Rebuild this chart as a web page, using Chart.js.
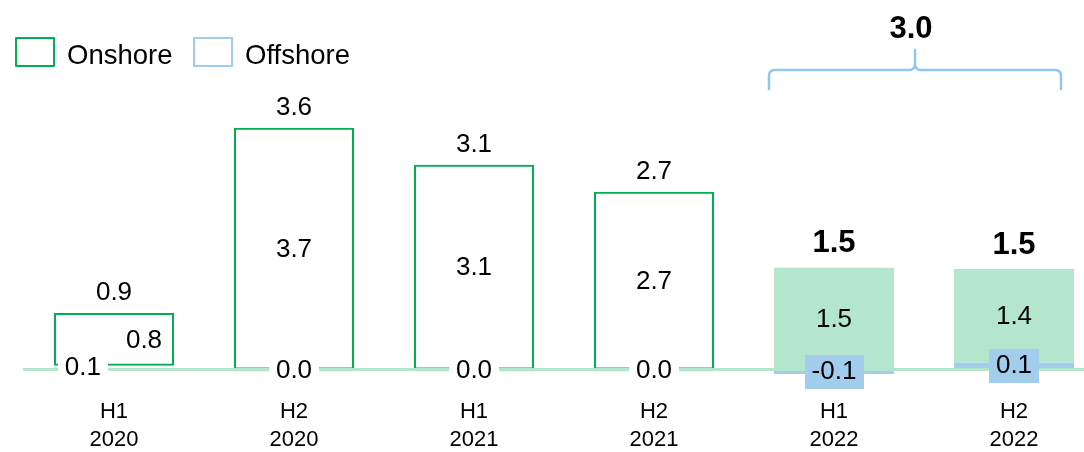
<!DOCTYPE html>
<html>
<head>
<meta charset="utf-8">
<script src="https://cdn.jsdelivr.net/npm/chart.js@4.4.1/dist/chart.umd.min.js"></script>
<style>
  html, body { margin: 0; padding: 0; background: #fff; }
  canvas { display: block; }
</style>
</head>
<body>
<canvas id="chart" width="1084" height="452"></canvas>
<script>
// Half-year periods
const halves = ['H1', 'H2', 'H1', 'H2', 'H1', 'H2'];
const years = ['2020', '2020', '2021', '2021', '2022', '2022'];

// Values per period
const onshore = [0.80, 3.66, 3.10, 2.69, 1.54, 1.42];
const offshore = [0.055, -0.03, -0.03, -0.03, -0.07, 0.10];

// Styling
const GREEN = '#00b050';
const GREEN_FILL = '#b3e6cc';
const BLUE_LINE = '#9fcdee';
const BLUE_FILL = '#a3cdec';
const BRACE = '#8fc8ee';
const FONT = '"Liberation Sans", Arial, Helvetica, sans-serif';
const VALUE_FONT = '26px ' + FONT;
const TOTAL_FONT = 'bold 31px ' + FONT;

const highlighted = years.map(y => y === '2022');
const totals = onshore.map((v, i) => v + offshore[i]);
const fmt = v => { const r = Math.round(v * 10) / 10; return (r === 0 ? 0 : r).toFixed(1); };

function labelBox(ctx, text, cx, cy, fill) {
  const w = ctx.measureText(text).width + 14;
  const h = 34;
  if (fill) {
    ctx.fillStyle = fill;
    ctx.fillRect(Math.round(cx - w / 2), Math.round(cy - h / 2), Math.round(w), h);
  }
  ctx.fillStyle = '#000';
  ctx.fillText(text, cx, cy);
}

const annotate = {
  id: 'annotate',
  afterDatasetsDraw(chart) {
    const { ctx } = chart;
    const yScale = chart.scales.y;
    const y0 = yScale.getPixelForValue(0);
    const metaOff = chart.getDatasetMeta(0);
    const metaOn = chart.getDatasetMeta(1);
    ctx.save();

    // zero line
    ctx.fillStyle = GREEN_FILL;
    ctx.fillRect(23, y0 - 1.5, chart.width - 23, 3);

    ctx.textAlign = 'center';
    ctx.textBaseline = 'middle';

    metaOn.data.forEach((bar, i) => {
      const off = metaOff.data[i];
      const segH = Math.abs(bar.base - bar.y);
      const crowded = segH < 70;
      const onX = crowded ? bar.x + bar.width * 0.25 : bar.x;
      const offX = crowded ? bar.x - bar.width * 0.26 : bar.x;

      // offshore value with its backing box
      ctx.font = VALUE_FONT;
      labelBox(ctx, fmt(offshore[i]), offX, (off.y + off.base) / 2,
        highlighted[i] ? BLUE_FILL : '#fff');

      // onshore value in the middle of its segment
      ctx.fillStyle = '#000';
      ctx.fillText(fmt(onshore[i]), onX, (bar.y + bar.base) / 2 + 1);

      // period total above the bar
      if (highlighted[i]) {
        ctx.font = TOTAL_FONT;
        ctx.fillText(fmt(totals[i]), bar.x, bar.y - 24);
      } else {
        ctx.font = VALUE_FONT;
        ctx.fillText(fmt(totals[i]), bar.x, bar.y - 20);
      }
    });

    // brace over the highlighted periods with their combined total
    const idx = highlighted.map((h, i) => h ? i : -1).filter(i => i >= 0);
    if (idx.length) {
      const first = metaOn.data[idx[0]];
      const last = metaOn.data[idx[idx.length - 1]];
      const left = first.x - first.width / 2 - 5;
      const right = last.x + last.width / 2 - 13;
      const mid = (left + right) / 2;
      const yLine = 70, yEnd = 89, yTip = 50, r = 6;
      ctx.strokeStyle = BRACE;
      ctx.lineWidth = 2.5;
      ctx.lineCap = 'round';
      ctx.lineJoin = 'round';
      ctx.beginPath();
      ctx.moveTo(left, yEnd);
      ctx.lineTo(left, yLine + r);
      ctx.quadraticCurveTo(left, yLine, left + r, yLine);
      ctx.lineTo(mid - r, yLine);
      ctx.quadraticCurveTo(mid, yLine, mid, yLine - r);
      ctx.lineTo(mid, yTip);
      ctx.moveTo(mid, yLine - r);
      ctx.quadraticCurveTo(mid, yLine, mid + r, yLine);
      ctx.lineTo(right - r, yLine);
      ctx.quadraticCurveTo(right, yLine, right, yLine + r);
      ctx.lineTo(right, yEnd);
      ctx.stroke();

      const sum = idx.reduce((s, i) => s + totals[i], 0);
      ctx.fillStyle = '#000';
      ctx.font = TOTAL_FONT;
      ctx.fillText(fmt(sum), mid - 4, 29);
    }

    // legend
    const items = [
      { ds: chart.data.datasets[1], x: 15 },
      { ds: chart.data.datasets[0], x: 193 }
    ];
    ctx.textAlign = 'left';
    ctx.textBaseline = 'alphabetic';
    ctx.font = '27.5px ' + FONT;
    items.forEach(it => {
      ctx.fillStyle = '#fff';
      ctx.fillRect(it.x + 1, 38, 38, 28);
      ctx.strokeStyle = it.ds.legendColor;
      ctx.lineWidth = 2;
      ctx.strokeRect(it.x + 1, 38, 38, 28);
      ctx.fillStyle = '#000';
      ctx.fillText(it.ds.label, it.x + 52, 64);
    });

    ctx.restore();
  }
};

Chart.defaults.color = '#000';
Chart.defaults.font.family = FONT;

new Chart(document.getElementById('chart'), {
  type: 'bar',
  data: {
    labels: halves.map((h, i) => [h, years[i]]),
    datasets: [
      {
        label: 'Offshore',
        data: offshore,
        legendColor: BLUE_LINE,
        backgroundColor: ctx => highlighted[ctx.dataIndex] ? BLUE_FILL : 'rgba(255,255,255,0)',
        borderColor: BLUE_LINE,
        borderWidth: ctx => (highlighted[ctx.dataIndex] || ctx.raw > 0) ? 0 : 2,
        borderSkipped: false,
        clip: false
      },
      {
        label: 'Onshore',
        data: onshore,
        legendColor: GREEN,
        backgroundColor: ctx => highlighted[ctx.dataIndex] ? GREEN_FILL : 'rgba(255,255,255,0)',
        borderColor: GREEN,
        borderWidth: ctx => highlighted[ctx.dataIndex] ? 0 : 2,
        borderSkipped: false,
        clip: false
      }
    ]
  },
  options: {
    responsive: false,
    animation: false,
    categoryPercentage: 1,
    barPercentage: 2 / 3,
    layout: { padding: { top: 0, left: 114, right: 70, bottom: -8 } },
    plugins: {
      legend: { display: false },
      tooltip: { enabled: false }
    },
    scales: {
      x: {
        stacked: true,
        offset: false,
        grid: { display: false, drawTicks: false },
        border: { display: false },
        ticks: {
          font: { size: 22, lineHeight: 28 / 22 },
          padding: 6,
          maxRotation: 0,
          autoSkip: false
        }
      },
      y: {
        stacked: true,
        display: false,
        min: -0.3414,
        max: 5.592
      }
    }
  },
  plugins: [annotate]
});
</script>
</body>
</html>
